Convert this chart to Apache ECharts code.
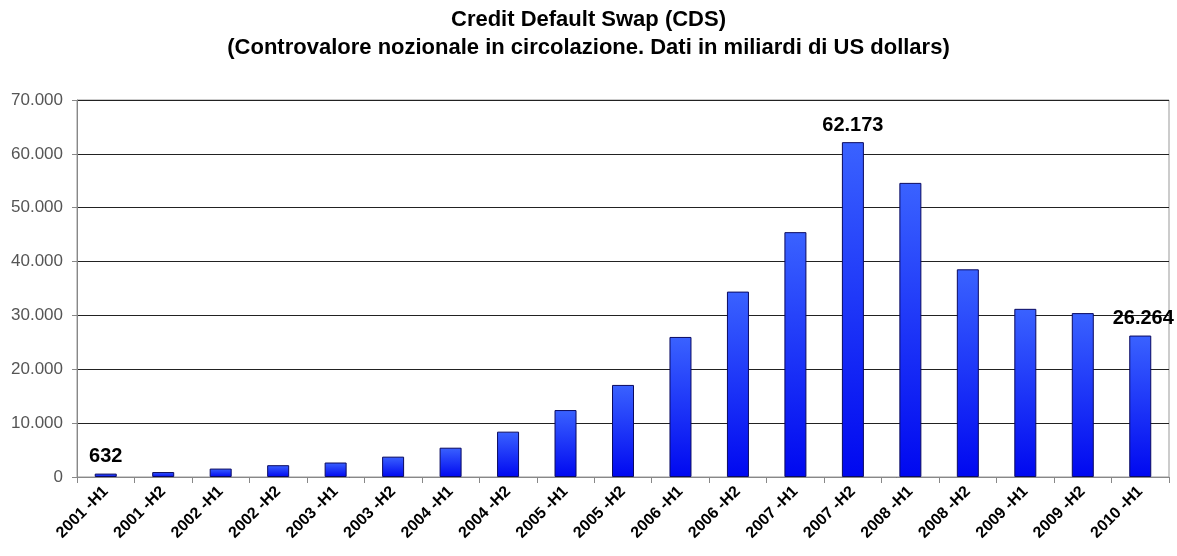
<!DOCTYPE html>
<html>
<head>
<meta charset="utf-8">
<script src="https://cdn.jsdelivr.net/npm/echarts@6/dist/echarts.min.js"></script>
<style>html,body{margin:0;padding:0;background:#fff}#c{width:1177px;height:556px}</style>
</head>
<body>
<div id="c"></div>
<script>
const categories = ["2001 -H1","2001 -H2","2002 -H1","2002 -H2","2003 -H1","2003 -H2","2004 -H1","2004 -H2","2005 -H1","2005 -H2","2006 -H1","2006 -H2","2007 -H1","2007 -H2","2008 -H1","2008 -H2","2009 -H1","2009 -H2","2010 -H1"];
const values = [632,919,1563,2192,2688,3779,5442,8422,12430,17096,26006,34423,45464,62173,54612,38564,31223,30428,26264];
const labelledIdx = [0,13,18];
const yTicks = [0,10000,20000,30000,40000,50000,60000,70000];
const titleText = "Credit Default Swap (CDS)";
const subtitleText = "(Controvalore nozionale in circolazione. Dati in miliardi di US dollars)";

function fmt(v){ return String(Math.round(v)).replace(/\B(?=(\d{3})+(?!\d))/g, "."); }

const FONT = 'Liberation Sans, Arial, sans-serif';
const chart = echarts.init(document.getElementById('c'));
const gradient = new echarts.graphic.LinearGradient(0,0,0,1,[{offset:0,color:'#3a62ff'},{offset:1,color:'#0008f0'}]);
chart.setOption({
  animation:false,
  title:{
    text: titleText + "\n" + subtitleText,
    left:'center', top:1,
    textStyle:{fontFamily:FONT,fontWeight:'bold',fontSize:22,color:'#000',lineHeight:28}
  },
  grid:{left:77,right:8,top:100,bottom:79,containLabel:false,show:true,borderColor:'#999',borderWidth:1},
  xAxis:{
    type:'category', data:categories,
    axisLine:{lineStyle:{color:'#888'}},
    axisTick:{show:true,alignWithLabel:false,length:6,lineStyle:{color:'#888'}},
    axisLabel:{rotate:45,interval:0,fontFamily:FONT,fontWeight:'bold',fontSize:16,color:'#000',margin:12}
  },
  yAxis:{
    type:'value', min:0, max:70000, interval:10000,
    axisLine:{show:true,lineStyle:{color:'#888'}},
    axisTick:{show:true,length:5,lineStyle:{color:'#888'}},
    splitLine:{lineStyle:{color:'#222',width:1}},
    axisLabel:{formatter:v=>fmt(v),fontFamily:FONT,fontSize:17,color:'#555',margin:14}
  },
  series:[{
    type:'bar', barWidth:22,
    data: values.map((v,i)=>({
      value:v,
      label:{show:labelledIdx.includes(i),position:'top',distance:7,
        offset: i===18?[3,0]:[0,0],
        formatter:p=>fmt(p.value),
        fontFamily:FONT,fontWeight:'bold',fontSize:20,color:'#000'}
    })),
    itemStyle:{color:gradient,borderColor:'#0a0a60',borderWidth:1}
  }]
});
</script>
</body>
</html>
